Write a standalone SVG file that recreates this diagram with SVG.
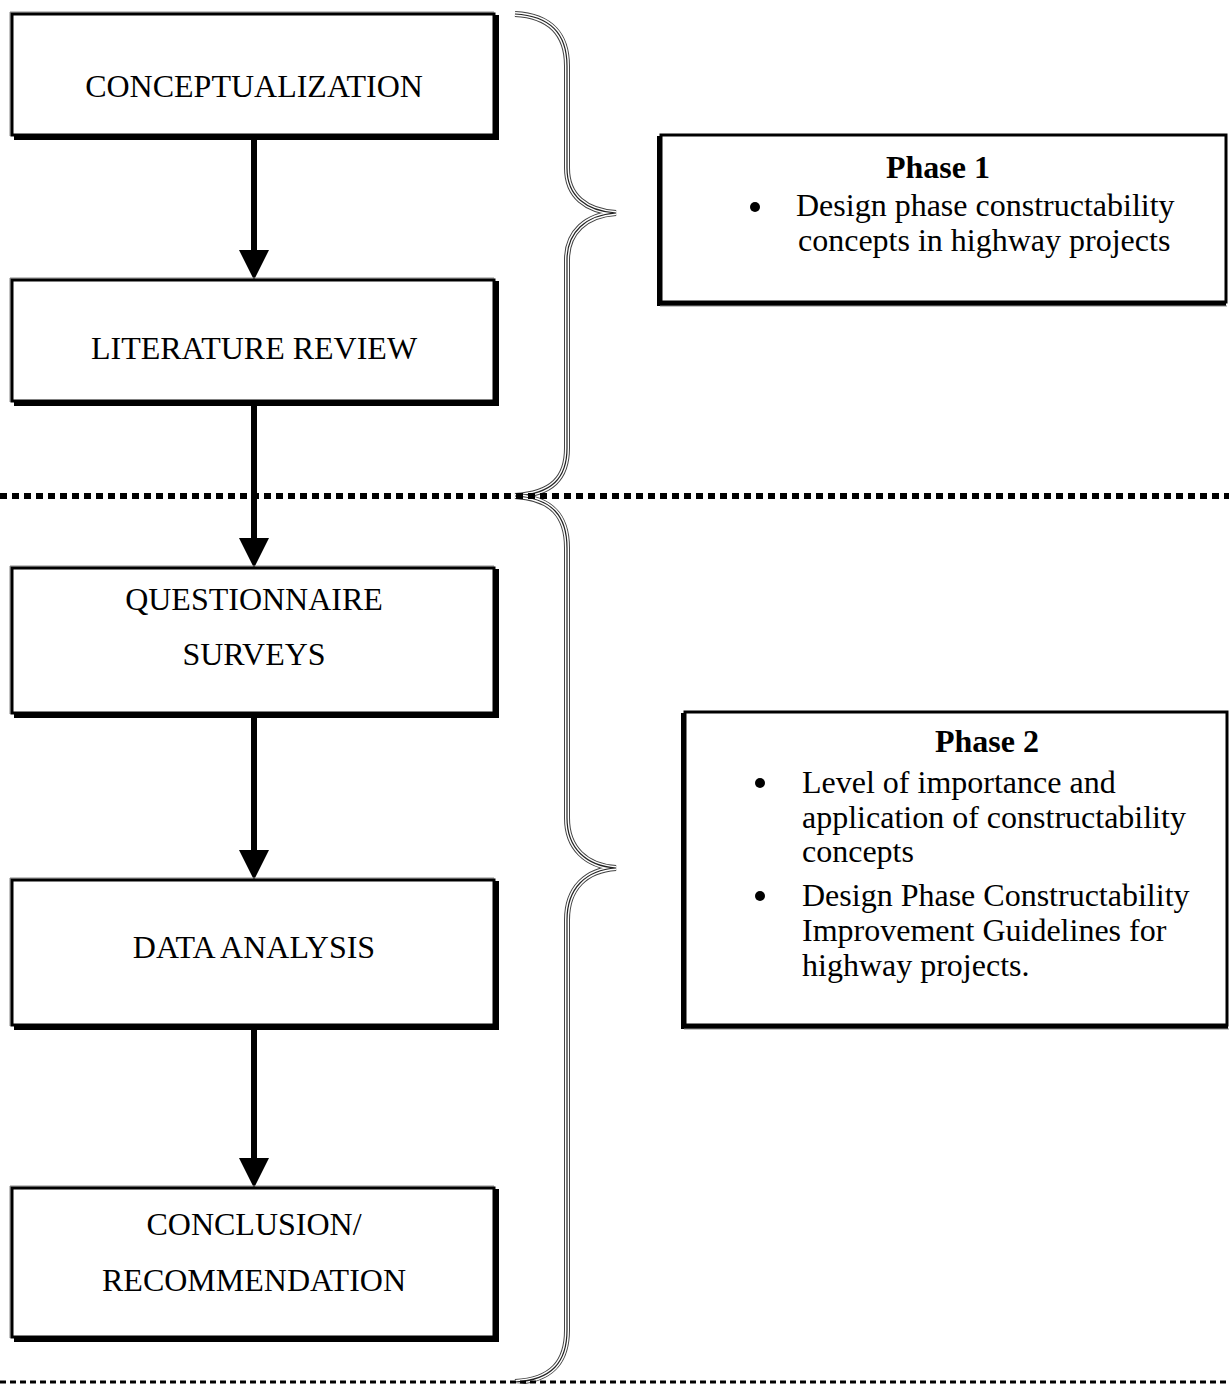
<svg xmlns="http://www.w3.org/2000/svg" width="1229" height="1384" viewBox="0 0 1229 1384">
<defs>
<style>
.box{fill:#fff;stroke:#000;stroke-width:3}
.shadow{fill:none;stroke:#000;stroke-width:4}
.hl{fill:none;stroke:#888;stroke-width:1}
.t{font-family:"Liberation Serif","Times New Roman",serif;font-size:32px;fill:#000}
.c{text-anchor:middle}
.b{font-weight:bold}
.shaft{stroke:#000;stroke-width:6;fill:none}
.head{fill:#000}
.br1{fill:none;stroke:#444;stroke-width:6}
.br2{fill:none;stroke:#fff;stroke-width:4}
.br3{fill:none;stroke:#222;stroke-width:1.2}
</style>
<path id="brace1" d="M515,14 C552,16 567,36 567,66 L567,168 C567,196 586,211 616,213 C586,215 567,232 567,260 L567,448 C567,478 552,494 515,496"/>
<path id="brace2" d="M515,496 C552,498 567,516 567,548 L567,818 C567,848 586,866 616,868 C586,870 567,888 567,920 L567,1330 C567,1362 552,1380 515,1382"/>
</defs>
<rect width="1229" height="1384" fill="#fff"/>

<g id="braces">
<use href="#brace1" class="br1"/><use href="#brace1" class="br2"/><use href="#brace1" class="br3"/>
<use href="#brace2" class="br1"/><use href="#brace2" class="br2"/><use href="#brace2" class="br3"/>
</g>

<g id="separators">
<line x1="0" y1="496" x2="1229" y2="496" stroke="#000" stroke-width="6" stroke-dasharray="7 5"/>
<line x1="0" y1="1382" x2="1229" y2="1382" stroke="#000" stroke-width="3" stroke-dasharray="6 4"/>
</g>

<g id="connectors">
<line class="shaft" x1="254" y1="136" x2="254" y2="252"/>
<polygon class="head" points="239,250 269,250 254,280"/>
<line class="shaft" x1="254" y1="402" x2="254" y2="540"/>
<polygon class="head" points="239,538 269,538 254,568"/>
<line class="shaft" x1="254" y1="714" x2="254" y2="852"/>
<polygon class="head" points="239,850 269,850 254,880"/>
<line class="shaft" x1="254" y1="1026" x2="254" y2="1160"/>
<polygon class="head" points="239,1158 269,1158 254,1188"/>
</g>

<g id="n1">
<polyline class="hl" points="10,136 10,12 494,12"/>
<rect class="box" x="12" y="14" width="482" height="121"/>
<polyline class="shadow" points="497,15 497,138 14,138"/>
<text class="t c" x="254" y="97">CONCEPTUALIZATION</text>
</g>

<g id="n2">
<polyline class="hl" points="10,402 10,278 494,278"/>
<rect class="box" x="12" y="280" width="482" height="121"/>
<polyline class="shadow" points="497,281 497,404 14,404"/>
<text class="t c" x="254" y="359">LITERATURE REVIEW</text>
</g>

<g id="n3">
<polyline class="hl" points="10,714 10,566 494,566"/>
<rect class="box" x="12" y="568" width="482" height="145"/>
<polyline class="shadow" points="497,569 497,716 14,716"/>
<text class="t c" x="254" y="610">QUESTIONNAIRE</text>
<text class="t c" x="254" y="665">SURVEYS</text>
</g>

<g id="n4">
<polyline class="hl" points="10,1026 10,878 494,878"/>
<rect class="box" x="12" y="880" width="482" height="145"/>
<polyline class="shadow" points="497,881 497,1028 14,1028"/>
<text class="t c" x="254" y="958">DATA ANALYSIS</text>
</g>

<g id="n5">
<polyline class="hl" points="10,1338 10,1186 494,1186"/>
<rect class="box" x="12" y="1188" width="482" height="149"/>
<polyline class="shadow" points="497,1189 497,1340 14,1340"/>
<text class="t c" x="254" y="1235">CONCLUSION/</text>
<text class="t c" x="254" y="1291">RECOMMENDATION</text>
</g>

<g id="phase1">
<rect class="box" x="661" y="135" width="565" height="167"/>
<polyline class="shadow" points="659,136 659,304 1226,304"/>
<line x1="660" y1="306" x2="1227" y2="306" stroke="#888" stroke-width="1"/>
<text class="t c b" x="938" y="178">Phase 1</text>
<circle cx="755" cy="207" r="5"/>
<text class="t" x="796" y="216">Design phase constructability</text>
<text class="t" x="798" y="251">concepts in highway projects</text>
</g>

<g id="phase2">
<rect class="box" x="685" y="712" width="542" height="313"/>
<polyline class="shadow" points="683,713 683,1027 1228,1027"/>
<line x1="684" y1="1029" x2="1229" y2="1029" stroke="#888" stroke-width="1"/>
<text class="t c b" x="987" y="752">Phase 2</text>
<circle cx="760" cy="783" r="5"/>
<text class="t" x="802" y="793">Level of importance and</text>
<text class="t" x="802" y="828">application of constructability</text>
<text class="t" x="802" y="862">concepts</text>
<circle cx="760" cy="896" r="5"/>
<text class="t" x="802" y="906">Design Phase Constructability</text>
<text class="t" x="802" y="941">Improvement Guidelines for</text>
<text class="t" x="802" y="976">highway projects.</text>
</g>
</svg>
